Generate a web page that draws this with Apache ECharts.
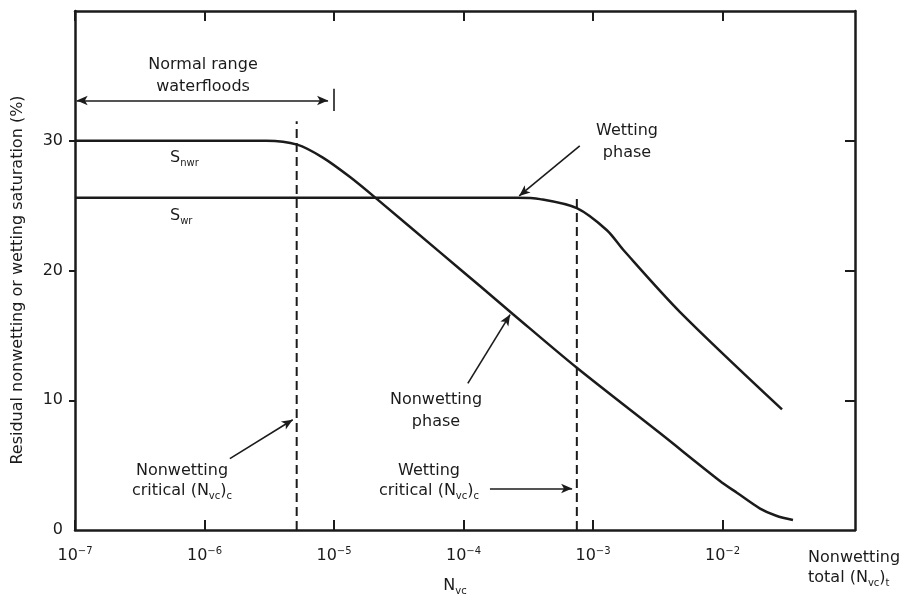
<!DOCTYPE html>
<html><head><meta charset="utf-8">
<script src="https://cdn.jsdelivr.net/npm/echarts@6/dist/echarts.min.js"></script>
<style>html,body{margin:0;padding:0;background:#fff}#c{width:909px;height:602px}</style>
</head><body><div id="c"></div>
<script>
// ---- data (Nvc values, saturation %) ----
const xTickExps = [-7, -6, -5, -4, -3, -2];
const yTickLabels = [0, 10, 20, 30];
const yTickMarks = [10, 20, 30];

const nonwettingN = [1e-7, 2.0e-6, 3.0e-6, 5.2e-6, 8.2e-6, 1.33e-5, 2.15e-5, 6.6e-5, 1.34e-4, 2.4e-4, 7.5e-4, 3.3e-3, 9.5e-3, 1.3e-2, 1.95e-2, 2.6e-2, 3.5e-2];
const nonwettingS = [30, 30, 30, 29.7, 28.7, 27.2, 25.5, 21.4, 18.8, 16.65, 12.5, 7.45, 3.8, 2.85, 1.65, 1.1, 0.77];

const wettingN = [1e-7, 2.6e-4, 3.9e-4, 7.5e-4, 1.28e-3, 1.71e-3, 4.7e-3, 2.88e-2];
const wettingS = [25.6, 25.6, 25.5, 24.8, 23.1, 21.6, 16.8, 9.3];

const nonwettingCriticalN = 5.15e-6, nonwettingCriticalTop = 31.5;
const wettingCriticalN = 7.5e-4, wettingCriticalTop = 25.7;

// normal range of waterfloods
const normalRangeN = [1.03e-7, 9.0e-6];
const normalRangeS = 33.1;
const normalRangeEndN = 1e-5;
const normalRangeBar = [32.3, 34.0];

// annotation arrows: [fromN, fromS, toN, toS]
const arrowWettingPhase = [7.9e-4, 29.6, 2.69e-4, 25.75];
const arrowNonwettingPhase = [1.08e-4, 11.3, 2.29e-4, 16.6];
const arrowNonwettingCrit = [1.57e-6, 5.5, 4.8e-6, 8.5];
const arrowWettingCrit = [1.6e-4, 3.2, 6.9e-4, 3.2];

// ---- chart ----
const L = Math.log10;
const FONT = 'DejaVu Sans';
const INK = '#1b1b1b';
const toPts = (N, S) => N.map((n, i) => [L(n), S[i]]);
const seg = (a) => [{coord: [L(a[0]), a[1]]}, {coord: [L(a[2]), a[3]]}];

const chart = echarts.init(document.getElementById('c'), null, {renderer: 'canvas'});

const xCommon = {
  type: 'value', min: -7, max: -0.977, interval: 1,
  axisLine: {show: true, onZero: false, lineStyle: {color: INK, width: 2.5}},
  axisTick: {show: true, inside: true, length: 10, customValues: xTickExps, lineStyle: {color: INK, width: 2}},
  splitLine: {show: false}
};
const yCommon = {
  type: 'value', min: 0, max: 40, interval: 10,
  axisLine: {show: true, onZero: false, lineStyle: {color: INK, width: 2.5}},
  splitLine: {show: false}
};

const subRich = {
  t: {fontFamily: FONT, fontSize: 16, color: INK, lineHeight: 20},
  sub: {fontFamily: FONT, fontSize: 10, color: INK, verticalAlign: 'bottom', lineHeight: 12}
};

function txt(x, y, text, align, rotation) {
  return {
    type: 'text', x: x, y: y, rotation: rotation || 0, silent: true,
    style: {text: text, align: align || 'center', verticalAlign: 'middle',
      fontFamily: FONT, fontSize: 16, fill: INK, lineHeight: 22, rich: subRich}
  };
}

const option = {
  animation: false,
  backgroundColor: '#fff',
  grid: {left: 75, right: 54, top: 11, bottom: 72, containLabel: false},
  xAxis: [
    Object.assign({}, xCommon, {
      position: 'bottom',
      axisLabel: {show: true, customValues: xTickExps, margin: 16,
        formatter: v => '{b|10}{s|\u2212' + Math.abs(Math.round(v)) + '}',
        rich: {
          b: {fontFamily: FONT, fontSize: 16, color: INK, lineHeight: 20},
          s: {fontFamily: FONT, fontSize: 10, color: INK, verticalAlign: 'top', lineHeight: 12}
        }}
    }),
    Object.assign({}, xCommon, {position: 'top', axisLabel: {show: false}})
  ],
  yAxis: [
    Object.assign({}, yCommon, {
      position: 'left',
      axisTick: {show: true, inside: false, length: 6, customValues: yTickMarks, lineStyle: {color: INK, width: 2}},
      axisLabel: {show: true, customValues: yTickLabels, margin: 12, fontFamily: FONT, fontSize: 16, color: INK}
    }),
    Object.assign({}, yCommon, {
      position: 'right',
      axisTick: {show: true, inside: true, length: 10, customValues: yTickMarks, lineStyle: {color: INK, width: 2}},
      axisLabel: {show: false}
    })
  ],
  series: [
    {
      name: 'Nonwetting', type: 'line', data: toPts(nonwettingN, nonwettingS),
      smooth: 0.3, showSymbol: false, silent: true,
      lineStyle: {color: INK, width: 2.5}
    },
    {
      name: 'Wetting', type: 'line', data: toPts(wettingN, wettingS),
      smooth: 0.3, showSymbol: false, silent: true,
      lineStyle: {color: INK, width: 2.5}
    },
    {
      name: 'NW critical', type: 'line', data: [[L(nonwettingCriticalN), 0], [L(nonwettingCriticalN), nonwettingCriticalTop]],
      showSymbol: false, silent: true, lineStyle: {color: INK, width: 2, type: [9, 5]}
    },
    {
      name: 'W critical', type: 'line', data: [[L(wettingCriticalN), 0], [L(wettingCriticalN), wettingCriticalTop]],
      showSymbol: false, silent: true, lineStyle: {color: INK, width: 2, type: [9, 5]}
    },
    {
      name: 'annotations', type: 'line', data: [], silent: true,
      markLine: {
        silent: true, animation: false,
        symbol: ['none', 'arrow'], symbolSize: [7, 11],
        label: {show: false},
        lineStyle: {color: INK, width: 1.6, type: 'solid'},
        emphasis: {disabled: true},
        data: [
          seg(arrowWettingPhase),
          seg(arrowNonwettingPhase),
          seg(arrowNonwettingCrit),
          seg(arrowWettingCrit),
          [{coord: [L(normalRangeN[0]), normalRangeS], symbol: 'arrow'}, {coord: [L(normalRangeN[1]), normalRangeS], symbol: 'arrow'}],
          [{coord: [L(normalRangeEndN), normalRangeBar[0]], symbol: 'none'}, {coord: [L(normalRangeEndN), normalRangeBar[1]], symbol: 'none'}]
        ]
      }
    }
  ],
  graphic: [
    txt(203, 76, 'Normal range\nwaterfloods'),
    txt(170, 158, '{t|S}{sub|nwr}', 'left'),
    txt(170, 216, '{t|S}{sub|wr}', 'left'),
    txt(627, 142, 'Wetting\nphase'),
    txt(436, 411, 'Nonwetting\nphase'),
    txt(182, 481, '{t|Nonwetting}\n{t|critical (N}{sub|vc}{t|)}{sub|c}'),
    txt(429, 481, '{t|Wetting}\n{t|critical (N}{sub|vc}{t|)}{sub|c}'),
    txt(455, 586, '{t|N}{sub|vc}'),
    txt(808, 568, '{t|Nonwetting}\n{t|total (N}{sub|vc}{t|)}{sub|t}', 'left'),
    txt(18, 280, 'Residual nonwetting or wetting saturation (%)', 'center', Math.PI / 2)
  ]
};
chart.setOption(option);
</script>
</body></html>
